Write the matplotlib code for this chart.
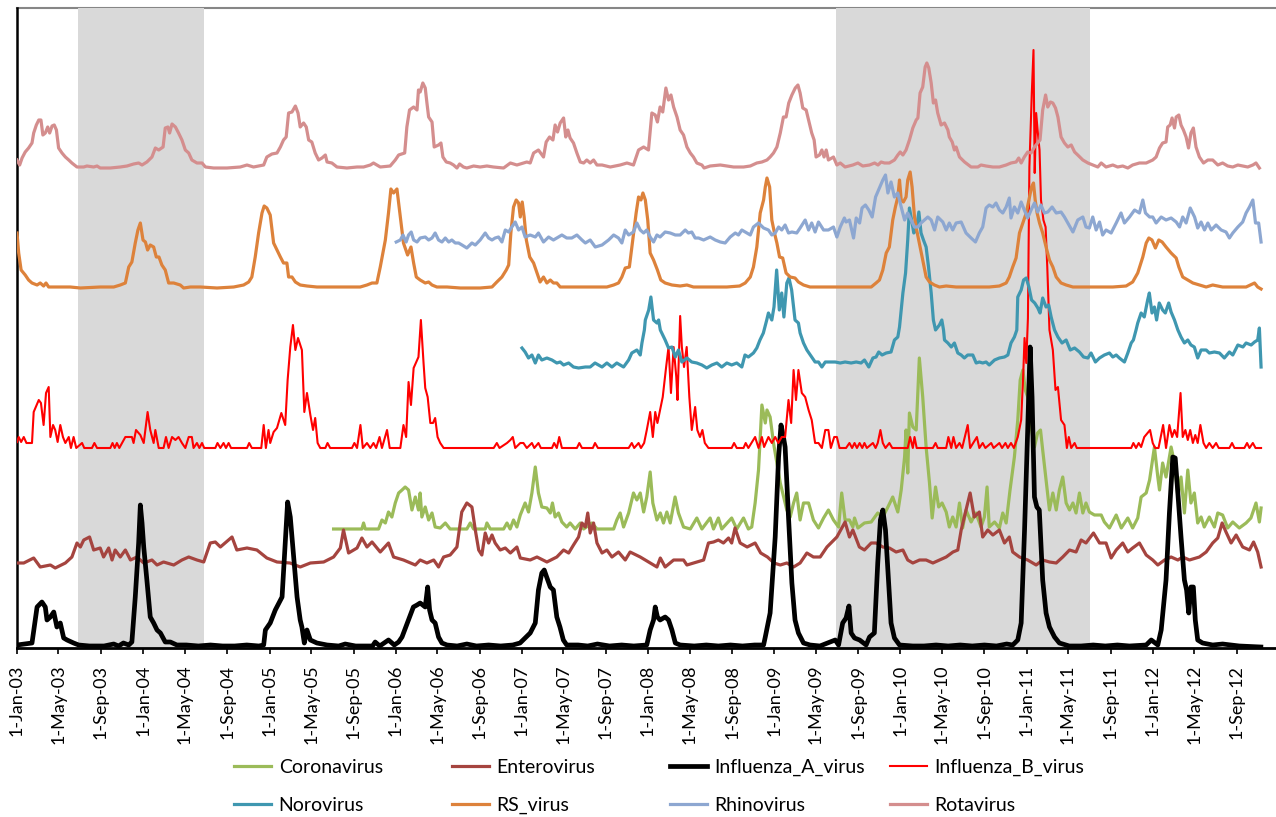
import numpy as np
import matplotlib.pyplot as plt
import matplotlib.dates as mdates
from matplotlib.ticker import FuncFormatter
from datetime import date

plt.rcParams['font.family'] = ['Lato', 'DejaVu Sans']

START = mdates.date2num(date(2003, 1, 1))

# weekly detections, each curve offset on its own band
# points are (weeks since 1 Jan 2003, level)
coronavirus = [
    (130.9, 119), (142.6, 119), (143.3, 125), (144.0, 119), (149.5, 119), (150.9, 128), (152.3, 125),
    (153.6, 136), (155.0, 131), (156.4, 145), (157.8, 155), (159.2, 158), (160.5, 161), (161.9, 158),
    (163.3, 138), (164.7, 151), (166.0, 138), (166.7, 155), (167.4, 131), (168.8, 141), (170.2, 128),
    (171.6, 135), (172.9, 121), (175.0, 120), (177.1, 125), (179.1, 119), (186.0, 119), (187.4, 125),
    (188.8, 119), (193.6, 119), (194.3, 125), (195.7, 119), (201.2, 119), (202.6, 125), (203.9, 119),
    (205.3, 128), (206.7, 121), (208.1, 133), (210.1, 145), (211.5, 136), (212.9, 155), (214.3, 181),
    (215.6, 155), (217.0, 141), (219.1, 140), (220.5, 135), (221.4, 145), (222.5, 131), (223.9, 135),
    (225.3, 126), (227.3, 121), (228.7, 125), (230.8, 119), (232.9, 125), (234.3, 119), (237.7, 125),
    (239.8, 119), (246.7, 119), (248.0, 128), (249.4, 135), (250.8, 121), (252.9, 135), (254.9, 155),
    (256.3, 148), (257.7, 155), (259.1, 136), (260.4, 151), (261.8, 176), (262.9, 145), (264.6, 128),
    (266.0, 135), (267.3, 125), (268.7, 136), (270.1, 125), (272.1, 151), (273.5, 135), (275.6, 121),
    (278.4, 119), (281.1, 130), (283.2, 119), (286.6, 130), (288.0, 119), (290.0, 130), (291.4, 119),
    (295.5, 130), (297.6, 119), (300.4, 130), (302.4, 119), (303.8, 121), (305.2, 145), (306.6, 178),
    (308.0, 243), (309.4, 225), (310.1, 238), (311.4, 231), (312.8, 205), (314.2, 185), (315.6, 165),
    (317.0, 151), (318.3, 138), (319.7, 131), (321.1, 145), (322.4, 155), (323.8, 128), (325.2, 145),
    (327.3, 145), (329.3, 128), (331.4, 120), (333.5, 130), (335.5, 138), (337.6, 128), (339.7, 121),
    (341.0, 155), (342.4, 128), (344.2, 128), (345.6, 121), (346.3, 130), (347.7, 120), (350.4, 125),
    (353.2, 126), (355.9, 135), (358.0, 131), (360.1, 141), (362.1, 151), (364.2, 136), (365.6, 158),
    (367.0, 191), (367.6, 218), (368.3, 175), (369.0, 235), (370.4, 221), (371.8, 218), (373.1, 290),
    (374.5, 251), (375.9, 201), (377.3, 165), (378.4, 130), (379.8, 161), (381.1, 141), (382.5, 145),
    (384.2, 136), (385.5, 121), (386.9, 131), (388.3, 121), (389.7, 145), (391.0, 120), (392.4, 138),
    (394.5, 126), (396.5, 135), (398.6, 121), (400.0, 131), (401.1, 161), (402.0, 121), (404.2, 126),
    (406.2, 120), (407.6, 135), (409.0, 125), (410.6, 158), (412.4, 191), (413.8, 228), (414.8, 268),
    (415.9, 278), (416.9, 258), (417.9, 251), (419.3, 221), (420.7, 201), (422.0, 215), (423.2, 218),
    (424.1, 198), (425.5, 168), (426.9, 138), (428.3, 155), (429.7, 138), (431.0, 158), (432.4, 171),
    (433.8, 145), (435.2, 138), (436.6, 145), (437.9, 135), (439.3, 155), (440.7, 135), (442.0, 145),
    (443.4, 136), (445.5, 133), (448.3, 133), (449.6, 126), (451.7, 120), (454.5, 133), (456.6, 120),
    (459.3, 130), (461.3, 120), (463.4, 130), (464.8, 151), (466.9, 155), (468.3, 168), (470.3, 201),
    (471.7, 171), (472.4, 158), (473.7, 185), (475.1, 171), (477.2, 201), (478.6, 185), (480.0, 151),
    (481.3, 171), (482.7, 135), (484.1, 178), (485.4, 145), (486.8, 155), (488.2, 125), (489.6, 131),
    (490.9, 121), (493.0, 131), (495.1, 121), (496.5, 135), (498.5, 133), (500.6, 120), (502.7, 126),
    (505.4, 120), (508.2, 125), (510.2, 130), (512.3, 145), (513.7, 126), (514.4, 140),
]

enterovirus = [
    (0.0, 85), (2.8, 85), (6.9, 90), (9.6, 81), (13.8, 83), (15.8, 80), (20.0, 85), (22.7, 91),
    (24.8, 105), (26.2, 101), (27.6, 108), (30.0, 111), (31.7, 98), (34.4, 100), (35.8, 91), (37.9, 100),
    (39.3, 88), (40.6, 98), (42.7, 91), (44.8, 98), (46.9, 88), (49.6, 91), (52.4, 85), (55.8, 88),
    (57.9, 83), (60.6, 86), (64.8, 83), (68.2, 88), (71.0, 91), (74.4, 88), (77.2, 86), (79.9, 105),
    (82.0, 106), (84.1, 101), (88.9, 111), (90.9, 98), (95.1, 100), (99.2, 98), (103.3, 90), (107.5, 86),
    (112.9, 85), (117.1, 81), (121.3, 85), (126.8, 86), (130.9, 91), (133.7, 100), (135.0, 118),
    (137.1, 95), (140.6, 100), (142.6, 110), (144.7, 101), (146.8, 106), (150.2, 96), (153.6, 105),
    (155.7, 91), (159.8, 88), (164.7, 83), (166.7, 88), (169.5, 85), (172.3, 88), (174.3, 81),
    (176.4, 91), (179.1, 93), (181.9, 101), (183.9, 136), (186.0, 145), (188.1, 141), (189.5, 118),
    (190.9, 98), (192.2, 93), (193.6, 115), (195.0, 105), (196.4, 113), (197.7, 105), (199.8, 98),
    (201.9, 100), (204.0, 95), (206.7, 101), (208.1, 90), (212.2, 88), (215.0, 91), (219.1, 86),
    (223.2, 91), (226.0, 98), (228.1, 95), (230.1, 103), (232.2, 111), (233.6, 125), (235.0, 121),
    (236.0, 135), (237.0, 115), (238.4, 125), (239.8, 105), (241.9, 95), (243.9, 98), (246.0, 91),
    (248.7, 96), (251.5, 88), (253.5, 96), (257.7, 91), (261.8, 85), (264.6, 81), (266.0, 90),
    (268.0, 81), (271.5, 88), (275.6, 88), (277.0, 83), (281.1, 86), (283.9, 88), (285.9, 105),
    (288.0, 106), (290.0, 108), (292.1, 105), (294.2, 110), (295.5, 105), (296.9, 120), (299.0, 105),
    (301.9, 101), (305.2, 105), (307.5, 95), (310.3, 91), (313.0, 85), (315.6, 83), (318.3, 85),
    (321.1, 81), (323.8, 85), (326.6, 95), (329.3, 91), (332.1, 91), (334.9, 101), (339.0, 111),
    (342.4, 126), (344.2, 111), (345.6, 118), (348.3, 101), (350.4, 98), (353.2, 105), (355.2, 105),
    (358.0, 101), (360.7, 100), (363.5, 96), (366.3, 98), (368.3, 88), (370.4, 85), (373.2, 88),
    (375.9, 88), (378.7, 85), (381.4, 88), (384.2, 91), (387.0, 96), (389.0, 98), (390.4, 118),
    (392.4, 138), (394.1, 155), (395.8, 131), (397.9, 136), (399.3, 111), (401.4, 118), (403.5, 113),
    (406.2, 118), (408.3, 105), (410.3, 111), (411.7, 96), (414.5, 91), (417.9, 88), (421.4, 83),
    (424.1, 88), (426.9, 86), (429.7, 85), (432.4, 91), (435.2, 98), (437.9, 96), (440.0, 108),
    (442.0, 105), (445.1, 115), (447.6, 105), (450.3, 105), (452.4, 90), (454.5, 98), (457.2, 105),
    (459.3, 96), (461.3, 100), (464.1, 105), (466.9, 93), (469.6, 88), (471.7, 83), (474.5, 88),
    (477.2, 91), (480.0, 88), (482.0, 91), (484.8, 88), (488.9, 91), (491.7, 96), (494.4, 105),
    (496.5, 110), (498.3, 125), (499.9, 116), (502.0, 105), (504.1, 113), (506.8, 101), (509.6, 98),
    (511.3, 106), (513.0, 96), (514.4, 81),
]

influenza_a = [
    (0.0, 3), (6.2, 5), (8.3, 41), (10.3, 46), (11.7, 41), (12.4, 28), (13.8, 31), (15.2, 36),
    (16.5, 21), (17.9, 25), (19.3, 10), (20.7, 8), (23.4, 5), (25.5, 3), (30.0, 2), (36.0, 2),
    (40.0, 4), (42.0, 2), (44.0, 5), (46.2, 3), (47.5, 6), (48.9, 51), (50.3, 105), (51.0, 143),
    (51.7, 125), (52.4, 101), (53.7, 68), (55.1, 31), (56.5, 25), (57.9, 18), (59.3, 15), (61.3, 6),
    (63.4, 6), (66.1, 3), (70.0, 3), (75.0, 2), (80.0, 3), (85.0, 2), (90.0, 2), (95.0, 3),
    (100.0, 2), (102.0, 3), (102.7, 18), (104.7, 25), (106.8, 38), (109.6, 51), (110.9, 105),
    (111.9, 146), (113.0, 131), (114.4, 91), (115.8, 51), (117.1, 28), (117.8, 21), (118.8, 5),
    (119.9, 18), (121.3, 8), (124.0, 5), (128.2, 3), (133.0, 2), (135.7, 4), (140.0, 2), (147.0, 2),
    (148.1, 6), (150.0, 2), (153.6, 8), (156.0, 3), (157.8, 6), (159.2, 11), (163.9, 41), (165.4, 43),
    (166.7, 45), (168.8, 41), (169.8, 61), (170.6, 38), (171.6, 28), (172.9, 25), (174.3, 11),
    (175.7, 5), (177.8, 3), (182.0, 2), (186.0, 4), (190.0, 2), (195.0, 3), (200.0, 2), (205.0, 3),
    (208.0, 5), (212.2, 15), (214.3, 25), (215.6, 58), (217.0, 75), (218.0, 78), (219.0, 71),
    (220.5, 61), (221.8, 58), (223.2, 31), (224.5, 21), (225.9, 8), (227.3, 3), (232.0, 3),
    (236.0, 2), (240.0, 4), (245.0, 2), (250.0, 3), (255.0, 2), (260.4, 3), (261.8, 18), (263.2, 28),
    (263.9, 41), (264.8, 31), (265.9, 28), (268.0, 31), (269.4, 28), (270.8, 18), (272.2, 5),
    (274.2, 3), (280.0, 2), (285.0, 3), (290.0, 2), (295.0, 3), (300.0, 2), (305.0, 3), (308.7, 3),
    (309.4, 11), (311.4, 35), (313.5, 111), (314.9, 191), (315.9, 223), (316.9, 211), (317.6, 201),
    (319.0, 131), (320.4, 65), (321.7, 28), (323.1, 15), (325.2, 5), (327.9, 3), (332.0, 2),
    (336.2, 6), (338.3, 8), (339.7, 3), (341.4, 25), (342.8, 30), (344.0, 42), (344.9, 15), (346.3, 10),
    (348.4, 8), (351.1, 3), (352.5, 11), (354.5, 15), (355.9, 85), (357.0, 128), (358.0, 138),
    (359.1, 118), (360.1, 78), (361.4, 25), (362.8, 10), (364.9, 3), (370.4, 2), (375.0, 2),
    (380.0, 3), (385.0, 2), (390.0, 3), (395.0, 2), (400.0, 3), (405.0, 2), (409.2, 4), (411.7, 3),
    (413.8, 8), (415.2, 25), (416.6, 118), (417.9, 218), (418.9, 301), (419.7, 251), (420.7, 151),
    (421.7, 141), (422.7, 138), (424.1, 68), (425.5, 35), (426.9, 21), (429.0, 11), (431.0, 5),
    (435.1, 2), (440.0, 2), (445.0, 3), (450.0, 2), (455.0, 3), (460.0, 2), (466.9, 3), (469.0, 8),
    (471.7, 3), (473.1, 18), (475.1, 68), (476.5, 135), (477.9, 191), (478.9, 190), (479.9, 158),
    (481.3, 111), (482.7, 68), (483.6, 58), (484.5, 35), (485.4, 61), (486.4, 61), (487.2, 28),
    (488.2, 8), (490.2, 5), (494.4, 3), (498.5, 4), (505.4, 2), (514.3, 1),
]

influenza_b = [
    (0.0, 206), (0.7, 211), (1.7, 206), (2.8, 211), (3.9, 205), (6.2, 205), (6.9, 236), (9.0, 248),
    (9.9, 245), (11.0, 223), (12.0, 255), (13.1, 261), (13.8, 211), (14.9, 223), (15.8, 218),
    (16.8, 206), (17.9, 223), (19.0, 211), (20.0, 205), (21.4, 211), (22.3, 200), (23.4, 211),
    (24.5, 200), (26.9, 205), (27.8, 200), (31.0, 200), (32.0, 205), (33.1, 200), (38.6, 200),
    (39.5, 205), (40.4, 200), (41.3, 205), (42.3, 200), (44.8, 211), (47.5, 211), (48.2, 205),
    (49.2, 218), (51.0, 213), (52.4, 205), (54.0, 236), (55.1, 218), (56.5, 205), (57.2, 218),
    (58.6, 200), (60.6, 200), (61.6, 211), (62.7, 200), (64.1, 211), (65.5, 208), (66.8, 211),
    (68.2, 205), (69.6, 200), (71.0, 211), (72.3, 211), (73.0, 200), (74.4, 205), (75.4, 200),
    (76.5, 205), (77.4, 200), (82.0, 200), (82.9, 205), (84.1, 200), (85.4, 205), (86.4, 200),
    (87.5, 205), (88.5, 200), (95.1, 200), (96.0, 205), (97.1, 200), (101.0, 200), (102.0, 223),
    (102.9, 200), (104.0, 218), (104.7, 205), (106.1, 216), (107.5, 220), (109.3, 235), (110.9, 223),
    (111.9, 268), (113.0, 301), (114.1, 323), (115.1, 298), (116.2, 310), (117.8, 298), (118.8, 236),
    (119.9, 255), (121.3, 233), (122.4, 218), (123.3, 230), (124.3, 205), (125.4, 200), (127.5, 200),
    (128.4, 205), (129.5, 200), (138.5, 200), (139.5, 205), (140.6, 200), (142.0, 223), (143.0, 200),
    (144.7, 205), (146.1, 200), (147.4, 205), (148.5, 200), (149.9, 211), (150.9, 200), (153.0, 218),
    (154.1, 200), (158.5, 200), (159.8, 223), (160.9, 211), (161.9, 266), (162.9, 243), (164.0, 280),
    (166.0, 291), (167.0, 328), (168.1, 285), (168.8, 260), (169.8, 251), (170.9, 225), (172.0, 225),
    (172.9, 230), (173.9, 211), (175.0, 205), (176.4, 200), (197.1, 200), (198.4, 205), (199.5, 200),
    (202.6, 205), (204.0, 208), (205.0, 211), (206.0, 200), (208.1, 205), (209.4, 205), (210.8, 200),
    (212.9, 205), (213.9, 200), (215.6, 205), (216.6, 200), (221.2, 200), (222.1, 205), (223.2, 200),
    (224.2, 211), (225.3, 200), (231.5, 200), (232.5, 205), (233.6, 200), (238.1, 200), (239.0, 205),
    (240.2, 200), (252.9, 200), (254.2, 205), (255.2, 200), (257.0, 205), (258.0, 200), (259.3, 205),
    (260.4, 218), (261.8, 236), (262.9, 211), (263.9, 236), (264.8, 225), (265.9, 238), (267.0, 251),
    (268.4, 281), (269.4, 301), (270.4, 255), (271.5, 301), (272.6, 271), (273.1, 248), (274.2, 332),
    (274.9, 301), (275.8, 281), (276.9, 301), (278.0, 251), (279.0, 218), (280.4, 241), (281.3, 218),
    (282.4, 211), (283.4, 218), (284.4, 205), (285.9, 200), (295.5, 200), (296.5, 205), (297.6, 200),
    (300.4, 200), (301.3, 205), (302.4, 200), (305.2, 211), (306.6, 200), (308.0, 211), (308.9, 201),
    (310.7, 211), (312.1, 205), (313.5, 211), (314.8, 205), (316.2, 211), (317.6, 211), (319.0, 248),
    (320.1, 225), (321.1, 278), (322.1, 248), (323.1, 278), (324.5, 255), (325.9, 251), (327.3, 238),
    (328.6, 228), (330.0, 205), (331.4, 205), (332.8, 200), (334.2, 218), (335.5, 218), (336.5, 200),
    (337.9, 211), (339.0, 211), (340.1, 200), (342.8, 200), (344.2, 205), (345.3, 200), (346.3, 205),
    (347.3, 200), (348.4, 205), (349.5, 200), (350.4, 205), (351.4, 200), (353.9, 205), (355.0, 200),
    (355.9, 205), (357.0, 218), (358.0, 205), (359.1, 200), (360.7, 205), (361.9, 200), (368.3, 200),
    (369.3, 211), (370.4, 200), (371.1, 211), (372.0, 200), (378.7, 200), (379.8, 205), (380.7, 200),
    (384.2, 200), (385.1, 211), (386.3, 200), (387.2, 211), (388.3, 200), (389.7, 205), (390.8, 200),
    (393.1, 223), (394.1, 200), (396.9, 211), (397.9, 200), (399.3, 205), (400.4, 200), (402.8, 205),
    (403.8, 200), (406.2, 205), (407.3, 200), (408.7, 205), (409.7, 200), (411.0, 205), (412.2, 200),
    (413.8, 211), (415.2, 228), (416.0, 270), (416.6, 310), (417.3, 285), (418.0, 330), (418.6, 481),
    (419.6, 555), (420.3, 598), (420.8, 475), (421.4, 535), (422.1, 515), (422.8, 498), (423.4, 448),
    (424.4, 428), (425.3, 421), (426.0, 381), (426.9, 318), (427.6, 308), (428.3, 298), (429.4, 258),
    (430.4, 261), (431.7, 228), (433.1, 223), (434.1, 200), (434.9, 211), (435.9, 200), (437.3, 205),
    (438.2, 200), (460.7, 200), (461.6, 205), (462.7, 200), (463.8, 205), (464.8, 201), (466.1, 211),
    (467.5, 215), (468.5, 218), (469.6, 205), (470.6, 200), (472.0, 200), (473.9, 223), (475.1, 200),
    (476.5, 223), (477.6, 211), (478.6, 218), (479.7, 211), (481.1, 255), (482.0, 211), (483.1, 218),
    (484.1, 208), (485.1, 218), (486.2, 205), (487.2, 213), (488.2, 205), (489.3, 223), (490.6, 205),
    (491.7, 200), (493.0, 205), (494.4, 200), (495.8, 205), (496.9, 200), (501.3, 200), (502.4, 205),
    (503.4, 200), (507.5, 200), (508.6, 205), (509.6, 200), (511.0, 205), (512.1, 200), (514.4, 200),
]

norovirus = [
    (208.8, 300), (210.1, 296), (211.5, 290), (212.9, 293), (214.3, 285), (215.6, 293), (217.0, 288),
    (219.1, 290), (221.2, 288), (223.2, 285), (224.6, 286), (226.0, 283), (228.1, 285), (230.1, 281),
    (232.2, 280), (235.0, 281), (237.0, 281), (239.0, 285), (241.9, 281), (243.9, 285), (246.0, 281),
    (248.0, 285), (250.8, 281), (252.9, 288), (254.2, 295), (256.3, 298), (257.7, 293), (258.4, 305),
    (259.4, 318), (259.8, 328), (261.2, 338), (262.1, 351), (263.2, 328), (264.6, 325), (265.3, 328),
    (266.0, 318), (268.0, 308), (269.4, 300), (270.8, 301), (272.2, 291), (273.5, 298), (274.9, 286),
    (277.0, 290), (279.0, 286), (281.1, 285), (283.2, 283), (285.2, 280), (287.3, 283), (289.4, 285),
    (291.4, 281), (293.5, 285), (295.5, 283), (297.6, 285), (299.7, 281), (301.0, 293), (302.4, 291),
    (304.5, 295), (305.9, 300), (307.2, 308), (308.6, 315), (310.0, 328), (310.7, 335), (312.1, 328),
    (313.0, 341), (314.1, 378), (315.2, 338), (316.2, 355), (317.1, 331), (318.3, 365), (319.2, 370),
    (320.3, 358), (321.7, 328), (323.1, 325), (323.8, 315), (325.2, 305), (326.6, 298), (328.6, 291),
    (330.0, 286), (331.4, 286), (332.8, 281), (334.2, 286), (336.2, 286), (338.3, 286), (340.4, 285),
    (342.4, 286), (344.9, 285), (347.0, 286), (349.0, 285), (350.4, 288), (352.2, 281), (353.9, 290),
    (355.2, 291), (356.3, 296), (357.7, 293), (359.4, 295), (361.4, 296), (362.8, 308), (364.2, 311),
    (364.9, 321), (366.3, 355), (367.4, 375), (368.3, 408), (369.0, 440), (369.9, 428), (370.8, 415),
    (371.8, 418), (372.9, 436), (373.8, 415), (374.8, 408), (375.9, 401), (376.9, 381), (378.0, 355),
    (378.9, 328), (379.8, 318), (381.4, 323), (382.4, 328), (383.1, 318), (383.5, 308), (384.9, 305),
    (386.3, 301), (387.6, 305), (389.0, 295), (390.4, 293), (391.7, 290), (393.1, 293), (395.2, 293),
    (396.6, 285), (397.9, 286), (399.3, 285), (400.7, 286), (402.0, 283), (404.2, 288), (406.2, 290),
    (408.3, 291), (409.7, 293), (411.0, 305), (412.4, 311), (413.4, 318), (413.8, 351), (415.2, 358),
    (416.2, 368), (417.3, 370), (418.4, 361), (419.5, 348), (420.8, 345), (422.1, 340), (423.0, 335),
    (424.1, 350), (425.5, 341), (426.6, 343), (427.6, 331), (429.0, 318), (430.4, 311), (432.1, 305),
    (433.8, 308), (435.5, 298), (437.3, 300), (439.3, 296), (441.0, 291), (442.8, 290), (444.1, 295),
    (445.9, 286), (447.6, 290), (449.6, 293), (451.7, 295), (453.1, 291), (454.5, 293), (455.8, 290),
    (457.9, 286), (459.3, 295), (460.7, 305), (461.6, 308), (462.7, 318), (463.4, 325), (464.8, 335),
    (466.1, 331), (467.5, 348), (468.2, 355), (469.3, 335), (470.3, 341), (471.2, 328), (472.3, 345),
    (473.7, 338), (474.8, 335), (476.2, 345), (477.2, 336), (478.6, 328), (480.0, 318), (481.3, 311),
    (482.7, 305), (484.1, 308), (485.4, 303), (486.8, 301), (488.2, 290), (489.6, 298), (491.7, 298),
    (493.0, 295), (495.1, 296), (497.2, 295), (499.2, 290), (501.3, 296), (502.7, 293), (504.8, 303),
    (506.9, 301), (508.2, 305), (510.3, 303), (511.7, 306), (513.0, 308), (513.7, 320), (514.4, 281),
]

rs_virus = [
    (0.0, 415), (0.7, 395), (1.7, 378), (3.4, 373), (4.8, 368), (6.2, 365), (8.3, 363), (9.6, 365),
    (11.0, 362), (12.0, 365), (13.1, 361), (17.2, 361), (22.0, 361), (26.2, 360), (34.4, 361),
    (40.0, 361), (42.7, 363), (44.8, 365), (46.2, 381), (47.5, 386), (48.9, 405), (50.0, 418),
    (51.0, 425), (52.1, 408), (53.1, 406), (54.0, 398), (55.1, 403), (56.5, 401), (57.6, 391),
    (58.7, 391), (59.9, 383), (61.3, 378), (62.7, 365), (64.8, 365), (67.5, 363), (68.9, 360),
    (71.7, 361), (75.8, 361), (82.7, 360), (89.6, 361), (93.7, 363), (95.8, 366), (97.1, 371),
    (98.5, 391), (99.9, 415), (101.3, 435), (102.2, 442), (103.3, 440), (104.7, 433), (106.1, 405),
    (107.5, 398), (108.9, 391), (110.2, 385), (111.6, 385), (112.3, 371), (113.7, 371), (115.1, 366),
    (117.1, 363), (119.9, 362), (124.0, 361), (130.9, 361), (137.8, 361), (141.9, 361), (144.7, 363),
    (146.8, 365), (148.8, 365), (150.2, 381), (152.3, 408), (153.6, 435), (154.6, 459), (155.7, 455),
    (157.1, 459), (158.5, 431), (159.8, 405), (161.5, 393), (162.9, 401), (164.0, 385), (165.1, 371),
    (166.7, 368), (168.8, 365), (170.2, 366), (171.6, 363), (173.6, 361), (177.8, 361), (183.3, 360),
    (191.5, 360), (196.4, 361), (198.4, 366), (200.5, 371), (202.3, 378), (203.3, 383), (204.2, 415),
    (205.3, 441), (206.4, 448), (207.4, 445), (208.1, 431), (208.9, 446), (209.7, 431), (210.6, 408),
    (212.0, 391), (213.6, 385), (215.0, 375), (216.3, 366), (217.7, 371), (219.1, 365), (220.5, 368),
    (221.8, 365), (223.2, 365), (224.6, 361), (227.3, 361), (232.9, 361), (238.4, 361), (243.9, 361),
    (246.7, 363), (248.7, 365), (250.1, 371), (251.5, 380), (253.2, 381), (254.6, 408), (256.0, 435),
    (257.0, 451), (258.0, 448), (258.8, 455), (259.8, 448), (260.8, 428), (261.8, 395), (263.2, 388),
    (264.8, 378), (266.2, 368), (268.0, 365), (270.8, 363), (274.2, 362), (277.0, 363), (279.7, 361),
    (285.2, 361), (293.5, 361), (298.8, 362), (301.1, 365), (303.2, 371), (304.5, 381), (305.9, 401),
    (307.3, 435), (308.7, 448), (309.4, 461), (310.1, 470), (311.2, 461), (312.1, 428), (313.2, 415),
    (314.2, 405), (315.3, 391), (316.6, 390), (318.0, 375), (319.7, 371), (321.7, 370), (323.1, 366),
    (325.2, 363), (327.9, 361), (332.1, 361), (337.6, 361), (342.8, 361), (348.3, 361), (353.2, 361),
    (355.2, 365), (356.6, 368), (358.0, 378), (359.4, 395), (360.7, 401), (362.1, 428), (363.2, 441),
    (364.2, 451), (364.9, 468), (365.6, 448), (366.5, 446), (367.6, 451), (368.3, 468), (369.3, 476),
    (370.1, 461), (371.1, 431), (372.0, 418), (373.1, 405), (374.5, 388), (375.9, 371), (377.3, 366),
    (379.3, 363), (381.4, 361), (384.2, 362), (388.3, 361), (393.8, 361), (397.9, 361), (402.0, 361),
    (406.2, 362), (409.0, 365), (410.3, 371), (411.7, 381), (413.1, 390), (414.5, 415), (415.9, 425),
    (417.3, 435), (418.4, 448), (419.5, 461), (420.3, 465), (421.0, 448), (421.8, 435), (422.8, 425),
    (424.1, 415), (425.5, 401), (426.9, 388), (428.3, 381), (429.7, 371), (431.7, 365), (433.8, 363),
    (436.6, 361), (442.0, 361), (447.6, 361), (453.1, 361), (458.6, 362), (461.3, 366), (463.4, 375),
    (465.5, 391), (466.9, 405), (468.0, 410), (469.3, 408), (470.7, 400), (472.1, 408), (473.5, 406),
    (475.1, 401), (477.2, 395), (479.3, 390), (480.4, 381), (482.0, 371), (484.1, 368), (486.2, 365),
    (488.9, 363), (491.7, 361), (494.4, 363), (498.5, 361), (502.7, 361), (508.2, 361), (511.7, 365),
    (513.0, 361), (514.4, 359),
]

rhinovirus = [
    (156.8, 406), (158.5, 408), (159.6, 413), (160.9, 406), (161.9, 413), (163.0, 416), (164.0, 408),
    (165.4, 406), (166.7, 410), (168.8, 411), (170.2, 408), (171.6, 410), (172.9, 415), (174.3, 408),
    (175.7, 406), (177.1, 410), (178.5, 406), (179.8, 408), (181.2, 405), (182.6, 405), (184.0, 403),
    (186.0, 400), (188.1, 405), (189.5, 403), (191.5, 408), (193.6, 415), (195.0, 410), (196.4, 408),
    (197.7, 410), (199.1, 411), (200.5, 406), (201.9, 418), (203.3, 416), (204.6, 421), (206.0, 426),
    (207.4, 418), (208.8, 421), (210.1, 411), (212.2, 413), (214.3, 411), (215.6, 415), (217.7, 406),
    (219.8, 411), (221.8, 408), (223.2, 410), (225.3, 413), (227.3, 410), (229.4, 410), (231.5, 413),
    (233.6, 408), (235.0, 405), (237.0, 408), (239.1, 401), (241.9, 403), (244.6, 408), (246.7, 413),
    (248.7, 410), (250.1, 405), (251.5, 418), (252.9, 413), (254.9, 416), (256.3, 425), (257.7, 418),
    (259.1, 415), (260.4, 418), (261.8, 411), (263.2, 406), (264.6, 413), (265.9, 411), (268.0, 416),
    (270.1, 415), (272.2, 413), (274.2, 413), (276.3, 418), (277.6, 415), (279.0, 416), (280.4, 410),
    (281.8, 410), (283.9, 408), (286.6, 411), (288.7, 408), (290.8, 406), (292.8, 405), (294.9, 411),
    (297.0, 415), (298.3, 413), (299.7, 418), (301.1, 416), (303.2, 413), (304.5, 421), (306.6, 425),
    (308.7, 420), (310.7, 418), (312.1, 413), (313.5, 415), (314.9, 421), (316.2, 418), (317.6, 423),
    (319.0, 415), (320.4, 416), (322.4, 415), (323.8, 420), (325.9, 428), (327.3, 418), (328.6, 425),
    (330.0, 416), (331.4, 426), (333.5, 418), (335.5, 418), (337.6, 421), (339.0, 411), (340.4, 421),
    (342.1, 430), (342.8, 426), (344.2, 428), (345.9, 410), (347.0, 430), (348.4, 425), (349.4, 440),
    (350.8, 443), (352.2, 438), (353.6, 431), (355.0, 451), (356.6, 460), (358.0, 468), (359.1, 473),
    (360.1, 455), (361.4, 466), (362.8, 451), (364.2, 455), (365.6, 441), (367.0, 428), (368.3, 435),
    (369.7, 428), (371.1, 421), (372.5, 421), (373.8, 425), (375.2, 428), (376.6, 431), (378.0, 428),
    (379.4, 418), (380.7, 431), (382.8, 426), (384.2, 418), (385.5, 425), (386.9, 418), (388.3, 425),
    (390.4, 426), (392.4, 415), (394.5, 410), (396.3, 406), (397.9, 415), (399.3, 421), (400.7, 440),
    (402.0, 443), (403.5, 441), (404.8, 445), (406.2, 438), (407.6, 435), (409.0, 441), (410.3, 450),
    (411.0, 430), (412.4, 441), (413.8, 435), (415.2, 446), (416.5, 438), (417.9, 430), (419.3, 438),
    (420.7, 445), (422.0, 436), (423.4, 443), (424.8, 435), (426.2, 436), (428.0, 441), (429.7, 435),
    (431.7, 436), (433.1, 431), (434.5, 425), (436.6, 416), (438.6, 428), (440.7, 431), (442.0, 421),
    (443.4, 420), (444.8, 431), (446.2, 418), (447.6, 426), (448.9, 413), (450.3, 418), (452.4, 415),
    (454.5, 425), (456.5, 435), (457.9, 425), (460.0, 431), (462.1, 438), (464.1, 435), (465.5, 448),
    (466.6, 435), (468.3, 431), (469.6, 431), (471.0, 425), (473.1, 431), (475.1, 428), (477.2, 430),
    (479.3, 426), (480.7, 421), (482.0, 431), (483.4, 425), (485.1, 440), (486.9, 431), (488.2, 420),
    (489.6, 426), (491.0, 418), (492.4, 425), (493.8, 418), (495.8, 423), (497.9, 418), (499.9, 416),
    (501.3, 410), (502.7, 415), (504.8, 421), (506.8, 426), (508.2, 435), (509.6, 441), (511.0, 448),
    (512.1, 425), (513.4, 425), (514.4, 406),
]

rotavirus = [
    (0.0, 488), (1.1, 483), (2.1, 490), (3.4, 496), (4.8, 500), (6.2, 505), (6.9, 515), (8.0, 523),
    (9.0, 528), (9.9, 528), (10.7, 513), (11.7, 515), (12.7, 521), (13.5, 515), (14.5, 522),
    (15.4, 523), (16.3, 518), (17.2, 500), (18.6, 495), (20.0, 491), (21.4, 488), (22.7, 485),
    (24.8, 481), (27.6, 481), (28.9, 482), (31.7, 481), (33.1, 482), (34.4, 480), (38.6, 480),
    (42.7, 481), (45.5, 482), (48.2, 484), (50.3, 485), (51.7, 483), (53.7, 486), (55.8, 491),
    (57.2, 500), (58.6, 498), (60.4, 501), (61.3, 520), (62.4, 521), (63.1, 515), (64.1, 524),
    (65.5, 521), (66.8, 515), (68.2, 508), (69.6, 498), (71.0, 495), (72.3, 488), (74.4, 485),
    (76.5, 485), (77.9, 481), (81.3, 480), (86.8, 480), (92.3, 481), (95.1, 483), (97.8, 481),
    (102.0, 483), (103.3, 491), (105.4, 494), (107.5, 495), (108.9, 501), (110.2, 508), (111.3, 511),
    (112.3, 535), (113.7, 536), (115.1, 542), (116.2, 535), (117.1, 521), (118.5, 525), (119.6, 521),
    (120.6, 508), (121.9, 506), (123.3, 495), (124.7, 488), (126.1, 490), (127.5, 493), (128.2, 486),
    (130.2, 485), (132.3, 481), (136.4, 480), (140.6, 481), (143.3, 481), (146.1, 483), (147.4, 485),
    (150.2, 481), (154.3, 482), (156.4, 488), (157.8, 493), (160.3, 495), (161.2, 521), (162.3, 538),
    (164.0, 541), (165.4, 538), (166.0, 558), (166.7, 556), (167.8, 565), (168.8, 560), (169.5, 545),
    (170.2, 531), (171.6, 526), (172.5, 501), (174.3, 503), (175.3, 505), (176.1, 491), (177.5, 486),
    (179.1, 485), (180.5, 483), (181.9, 480), (183.0, 484), (184.6, 481), (186.0, 480), (188.8, 482),
    (191.5, 481), (194.3, 482), (197.0, 481), (201.2, 480), (204.0, 485), (206.7, 483), (209.4, 485),
    (210.8, 486), (212.2, 485), (213.6, 495), (215.6, 498), (217.7, 491), (218.8, 506), (220.2, 511),
    (221.6, 508), (222.5, 523), (223.5, 516), (224.6, 525), (226.0, 530), (226.9, 511), (227.8, 518),
    (228.7, 510), (230.1, 505), (231.5, 495), (232.9, 486), (234.3, 485), (235.6, 488), (237.0, 485),
    (238.4, 488), (239.8, 483), (241.9, 483), (245.3, 481), (249.4, 483), (252.2, 485), (254.9, 483),
    (257.0, 498), (259.1, 501), (261.1, 498), (262.5, 535), (263.9, 533), (264.8, 526), (265.9, 541),
    (267.0, 536), (268.3, 560), (269.4, 548), (270.4, 553), (271.5, 541), (272.9, 531), (274.2, 518),
    (275.6, 513), (277.0, 501), (278.4, 495), (279.7, 491), (281.1, 485), (283.2, 483), (284.1, 480),
    (286.6, 482), (290.8, 483), (296.3, 481), (300.4, 481), (303.2, 482), (305.9, 485), (308.0, 486),
    (310.1, 488), (311.4, 491), (312.8, 495), (314.2, 501), (315.6, 515), (316.9, 531), (318.0, 531),
    (319.1, 545), (320.4, 553), (321.8, 560), (322.9, 563), (323.8, 555), (324.9, 540), (326.3, 538),
    (327.3, 528), (328.6, 515), (329.6, 508), (330.4, 491), (331.8, 493), (332.8, 498), (333.7, 491),
    (334.6, 498), (335.5, 488), (337.6, 491), (339.0, 483), (340.4, 485), (342.4, 481), (345.6, 483),
    (347.7, 485), (349.7, 482), (352.5, 483), (354.6, 485), (356.0, 483), (357.3, 486), (358.7, 485),
    (360.7, 485), (362.8, 488), (364.2, 493), (365.2, 496), (366.3, 493), (367.6, 498), (369.0, 508),
    (370.4, 520), (371.8, 528), (372.5, 530), (373.4, 555), (374.5, 561), (375.5, 581), (376.2, 585),
    (377.0, 580), (378.0, 565), (378.9, 545), (379.8, 548), (380.7, 535), (382.1, 523), (383.5, 525),
    (384.9, 518), (385.5, 511), (386.7, 506), (387.6, 498), (388.3, 501), (389.7, 491), (391.8, 486),
    (394.5, 481), (397.3, 481), (398.6, 483), (400.7, 482), (403.5, 481), (406.2, 481), (409.0, 483),
    (411.0, 485), (413.1, 486), (414.2, 490), (415.2, 485), (416.5, 491), (417.9, 496), (419.3, 495),
    (420.7, 501), (422.0, 505), (423.0, 508), (424.1, 538), (425.3, 553), (426.2, 541), (427.3, 546),
    (428.3, 545), (429.4, 540), (430.4, 531), (431.7, 511), (433.1, 505), (434.5, 501), (435.9, 503),
    (437.3, 496), (438.6, 493), (440.7, 488), (442.8, 485), (444.8, 483), (446.9, 481), (448.3, 485),
    (450.3, 481), (453.1, 483), (455.1, 481), (457.2, 482), (459.3, 480), (461.3, 483), (464.1, 485),
    (466.9, 485), (469.6, 488), (471.0, 491), (472.4, 500), (473.7, 505), (475.1, 506), (475.8, 521),
    (476.8, 523), (477.6, 530), (478.6, 520), (479.3, 531), (480.4, 533), (481.3, 523), (482.3, 518),
    (483.4, 511), (484.4, 500), (485.4, 515), (486.4, 520), (487.5, 501), (488.9, 491), (490.6, 485),
    (492.4, 488), (494.4, 488), (496.5, 483), (498.5, 485), (500.6, 482), (502.7, 481), (504.8, 483),
    (506.8, 482), (508.9, 481), (511.0, 483), (512.3, 485), (513.7, 480),
]

# shaded seasons
season_spans = [("2003-06-28", "2004-06-26"), ("2009-06-29", "2011-07-03")]

series = [
    ("Coronavirus", coronavirus, "#9bbb59", 2.3),
    ("Enterovirus", enterovirus, "#a5443f", 2.3),
    ("Influenza_A_virus", influenza_a, "#000000", 3.4),
    ("Influenza_B_virus", influenza_b, "#ff0000", 1.5),
    ("Norovirus", norovirus, "#3f97b0", 2.3),
    ("RS_virus", rs_virus, "#dd823b", 2.3),
    ("Rhinovirus", rhinovirus, "#8da7d1", 2.3),
    ("Rotavirus", rotavirus, "#d48e8e", 2.3),
]

fig = plt.figure(figsize=(12.76, 8.17), dpi=100)
ax = fig.add_axes([17 / 1276, 169 / 817, 1 - 17 / 1276, 640 / 817])

for a, b in season_spans:
    ax.axvspan(mdates.datestr2num(a), mdates.datestr2num(b), color='#d9d9d9', lw=0, zorder=2)

# plot frame top edge
ax.axhline(640, color='#868686', lw=1.5, zorder=1, clip_on=False)

lines = {}
for name, pts, col, lw in series:
    wk, val = np.array(pts).T
    ln, = ax.plot(START + wk * 7, val, color=col, lw=lw, zorder=3, solid_joinstyle='round')
    lines[name] = ln

ax.set_xlim(START, START + 3644)
ax.set_ylim(0, 640)

ax.xaxis.set_major_locator(mdates.MonthLocator(bymonth=[1, 5, 9]))
ax.xaxis.set_major_formatter(FuncFormatter(
    lambda v, p: f"{mdates.num2date(v).day}-{mdates.num2date(v):%b-%y}"))
ax.tick_params(axis='x', direction='out', length=4, width=1.2, pad=8,
               labelsize=13, labelrotation=90)
ax.tick_params(axis='y', left=False, labelleft=False)

for s in ['top', 'right']:
    ax.spines[s].set_visible(False)
ax.spines['left'].set_linewidth(1.8)
ax.spines['bottom'].set_linewidth(2.0)

# legend laid out as 2 rows x 4 evenly spaced columns
legend_cols = [["Coronavirus", "Norovirus"], ["Enterovirus", "RS_virus"],
               ["Influenza_A_virus", "Rhinovirus"], ["Influenza_B_virus", "Rotavirus"]]
col_x = [234, 452, 670, 890]
for names, x in zip(legend_cols, col_x):
    leg = fig.legend([lines[n] for n in names], names, loc='upper left',
                     bbox_to_anchor=(x / 1276, 1 - 759 / 817), frameon=False,
                     fontsize=14, handlelength=1.9, handletextpad=0.4,
                     labelspacing=1.07, borderaxespad=0, borderpad=0)

fig.savefig('out.png', dpi=100)
